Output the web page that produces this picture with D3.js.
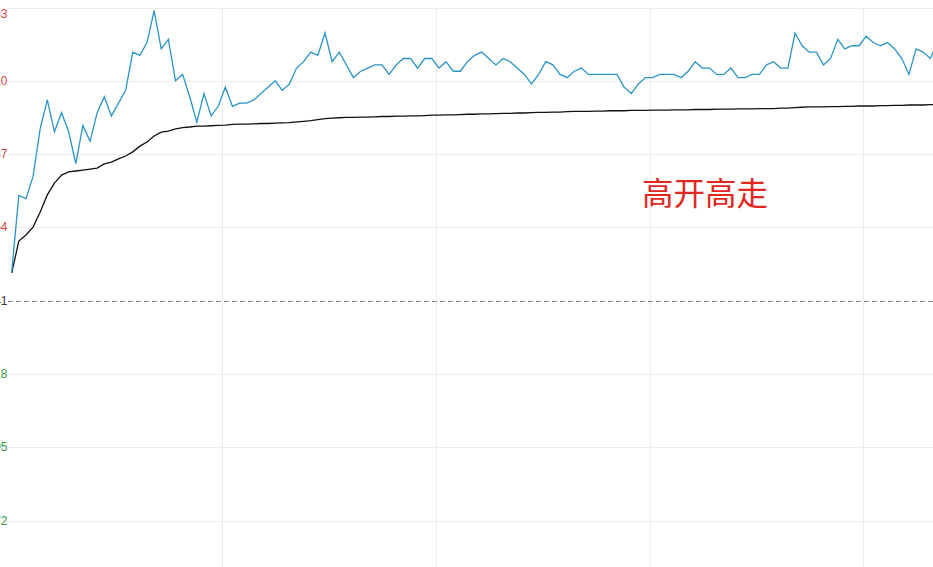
<!DOCTYPE html>
<html>
<head>
<meta charset="utf-8">
<script src="https://cdn.jsdelivr.net/npm/d3@7"></script>
<style>
  html, body { margin: 0; padding: 0; background: #fff; overflow: hidden; }
  svg { display: block; }
</style>
</head>
<body>
<svg id="chart"></svg>
<script>
// minute prices (one per minute from 9:30)
const prices = [
  10.50, 10.74, 10.73, 10.80, 10.95, 11.04, 10.94, 11.00, 10.94, 10.84,
  10.96, 10.91, 11.00, 11.05, 10.99, 11.03, 11.07, 11.19, 11.18, 11.22,
  11.32, 11.20, 11.23, 11.10, 11.12, 11.05, 10.97, 11.06, 10.99, 11.02,
  11.08, 11.02, 11.03, 11.03, 11.04, 11.06, 11.08, 11.10, 11.07, 11.09,
  11.14, 11.16, 11.19, 11.18, 11.25, 11.16, 11.19, 11.15, 11.11, 11.13,
  11.14, 11.15, 11.15, 11.12, 11.15, 11.17, 11.17, 11.14, 11.17, 11.17,
  11.14, 11.16, 11.13, 11.13, 11.16, 11.18, 11.19, 11.17, 11.15, 11.17,
  11.16, 11.14, 11.12, 11.09, 11.12, 11.16, 11.15, 11.12, 11.11, 11.13,
  11.14, 11.12, 11.12, 11.12, 11.12, 11.12, 11.08, 11.06, 11.09, 11.11,
  11.11, 11.12, 11.12, 11.12, 11.11, 11.13, 11.16, 11.14, 11.14, 11.12,
  11.12, 11.14, 11.11, 11.11, 11.12, 11.12, 11.15, 11.16, 11.14, 11.14,
  11.25, 11.21, 11.19, 11.19, 11.15, 11.17, 11.23, 11.20, 11.21, 11.21,
  11.24, 11.22, 11.21, 11.22, 11.20, 11.17, 11.12, 11.20, 11.19, 11.17,
  11.22
];

// average price line
const avgPrices = [
  10.497, 10.597, 10.616, 10.641, 10.688, 10.742, 10.779, 10.804, 10.814, 10.817,
  10.820, 10.823, 10.826, 10.839, 10.845, 10.855, 10.864, 10.877, 10.895, 10.908,
  10.927, 10.939, 10.942, 10.949, 10.953, 10.955, 10.958, 10.958, 10.959, 10.960,
  10.961, 10.963, 10.964, 10.964, 10.965, 10.966, 10.966, 10.967, 10.968, 10.969,
  10.971, 10.973, 10.975, 10.978, 10.981, 10.983, 10.984, 10.985, 10.985, 10.986,
  10.986, 10.987, 10.988, 10.988, 10.989, 10.989, 10.990, 10.990, 10.991, 10.992,
  10.992, 10.993, 10.993, 10.994, 10.995, 10.995, 10.996, 10.996, 10.997, 10.998,
  10.998, 10.999, 10.999, 11.000, 11.001, 11.001, 11.002, 11.002, 11.003, 11.004,
  11.004, 11.004, 11.005, 11.005, 11.006, 11.006, 11.006, 11.007, 11.007, 11.007,
  11.008, 11.008, 11.008, 11.009, 11.009, 11.009, 11.010, 11.010, 11.010, 11.011,
  11.011, 11.011, 11.012, 11.012, 11.012, 11.013, 11.013, 11.013, 11.014, 11.014,
  11.016, 11.017, 11.018, 11.018, 11.018, 11.019, 11.019, 11.020, 11.020, 11.021,
  11.021, 11.021, 11.022, 11.022, 11.023, 11.023, 11.024, 11.024, 11.024, 11.025,
  11.025
];

// price axis labels (step 0.23 around previous close 10.41)
const priceTicks = [11.33, 11.10, 10.87, 10.64, 10.41, 10.18, 9.95, 9.72];
const preClose = 10.41;
// vertical grid every 30 minutes
const minuteTicks = [30, 60, 90, 120];
const title = '高开高走';

const w = 933;
const h = 567;

const svg = d3.select('#chart')
  .attr('width', w)
  .attr('height', h)
  .style('font-family', '"Liberation Sans", Arial, sans-serif');

// minute index -> x
const xScale = d3.scaleLinear()
  .domain([0, 129])
  .range([11.7, 930.3]);

// price -> y (4 steps above and below the previous close)
const yScale = d3.scaleLinear()
  .domain([9.49, 11.33])
  .range([593.9, 7.5]);

const plotLeft = 8;

// horizontal grid
svg.append('g')
  .selectAll('line')
  .data(priceTicks.filter(d => d !== preClose))
  .join('line')
    .attr('x1', plotLeft)
    .attr('x2', w)
    .attr('y1', d => Math.round(yScale(d)) + 0.5)
    .attr('y2', d => Math.round(yScale(d)) + 0.5)
    .attr('stroke', '#ebebeb')
    .attr('stroke-width', 1);

// vertical grid
svg.append('g')
  .selectAll('line')
  .data(minuteTicks)
  .join('line')
    .attr('x1', d => Math.round(xScale(d) - 3) + 0.5)
    .attr('x2', d => Math.round(xScale(d) - 3) + 0.5)
    .attr('y1', yScale(11.33))
    .attr('y2', h)
    .attr('stroke', '#ebebeb')
    .attr('stroke-width', 1);

// previous close dashed line
svg.append('line')
  .attr('x1', plotLeft)
  .attr('x2', w)
  .attr('y1', Math.round(yScale(preClose)) + 0.5)
  .attr('y2', Math.round(yScale(preClose)) + 0.5)
  .attr('stroke', '#8c8c8c')
  .attr('stroke-dasharray', '5,3')
  .attr('stroke-width', 1);

// price labels, pushed off the left edge like the original
svg.append('g')
  .selectAll('text')
  .data(priceTicks)
  .join('text')
    .attr('x', 7.5)
    .attr('y', (d, i) => yScale(d) + (i === 0 ? 6 : 0))
    .attr('text-anchor', 'end')
    .attr('dominant-baseline', 'central')
    .attr('font-size', 12)
    .attr('fill', d => d > preClose ? '#d4473d' : d < preClose ? '#3b9a3b' : '#333')
    .text(d => d.toFixed(2));

const line = d3.line()
  .x((d, i) => xScale(i))
  .y(d => yScale(d));

svg.append('path')
  .datum(avgPrices)
  .attr('d', line)
  .attr('fill', 'none')
  .attr('stroke', '#111')
  .attr('stroke-width', 1.3);

svg.append('path')
  .datum(prices)
  .attr('d', line)
  .attr('fill', 'none')
  .attr('stroke', '#2b94c8')
  .attr('stroke-width', 1.3)
  .attr('stroke-linejoin', 'miter');

svg.append('text')
  .attr('x', 642)
  .attr('y', 191)
  .attr('dominant-baseline', 'central')
  .attr('font-family', '"Noto Sans CJK SC", sans-serif')
  .attr('font-size', 31.5)
  .attr('fill', '#e2271e')
  .text(title);
</script>
</body>
</html>
